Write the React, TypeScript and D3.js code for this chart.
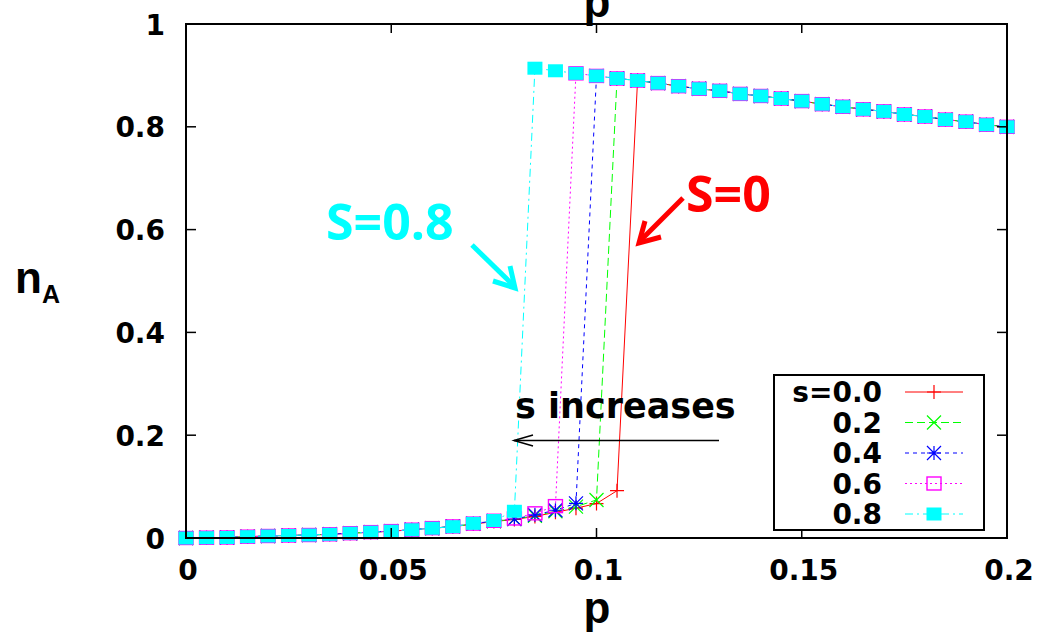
import React from "react";
import * as d3 from "d3";

const pValues = [
  0, 0.005, 0.01, 0.015, 0.02, 0.025, 0.03, 0.035, 0.04, 0.045, 0.05, 0.055, 0.06, 0.065, 0.07, 0.075,
  0.08, 0.085, 0.09, 0.095, 0.1, 0.105, 0.11, 0.115, 0.12, 0.125, 0.13, 0.135, 0.14, 0.145, 0.15, 0.155,
  0.16, 0.165, 0.17, 0.175, 0.18, 0.185, 0.19, 0.195, 0.2,
];

const nS00 = [
  0, 0.0006, 0.001, 0.0026, 0.0039, 0.0049, 0.0058, 0.0072, 0.0093, 0.0113, 0.0132, 0.016, 0.019, 0.022, 0.027, 0.032,
  0.036, 0.042, 0.05, 0.058, 0.067, 0.092, 0.89, 0.885, 0.879, 0.874, 0.87, 0.864, 0.86, 0.855, 0.85, 0.844,
  0.839, 0.834, 0.83, 0.824, 0.82, 0.814, 0.81, 0.804, 0.8,
];
const nS02 = [
  0, 0.0006, 0.001, 0.0026, 0.0039, 0.0049, 0.0058, 0.0072, 0.0093, 0.0113, 0.0133, 0.016, 0.019, 0.0225, 0.0275, 0.0325,
  0.037, 0.043, 0.052, 0.061, 0.074, 0.894, 0.89, 0.885, 0.879, 0.874, 0.87, 0.864, 0.86, 0.855, 0.85, 0.844,
  0.839, 0.834, 0.83, 0.824, 0.82, 0.814, 0.81, 0.804, 0.8,
];
const nS04 = [
  0, 0.0006, 0.001, 0.0026, 0.0039, 0.0049, 0.0058, 0.0072, 0.0093, 0.0114, 0.0134, 0.0162, 0.0192, 0.0225, 0.028, 0.033,
  0.037, 0.045, 0.054, 0.0675, 0.899, 0.894, 0.89, 0.885, 0.879, 0.874, 0.87, 0.864, 0.86, 0.855, 0.85, 0.844,
  0.839, 0.834, 0.83, 0.824, 0.82, 0.814, 0.81, 0.804, 0.8,
];
const nS06 = [
  0, 0.0006, 0.001, 0.0026, 0.0039, 0.0049, 0.0058, 0.0072, 0.0093, 0.0114, 0.0134, 0.0162, 0.0192, 0.0225, 0.028, 0.0335,
  0.038, 0.048, 0.062, 0.904, 0.899, 0.894, 0.89, 0.885, 0.879, 0.874, 0.87, 0.864, 0.86, 0.855, 0.85, 0.844,
  0.839, 0.834, 0.83, 0.824, 0.82, 0.814, 0.81, 0.804, 0.8,
];
const nS08 = [
  0, 0.0006, 0.001, 0.0026, 0.0039, 0.0049, 0.0058, 0.0072, 0.0093, 0.0113, 0.0132, 0.016, 0.019, 0.022, 0.0285, 0.034,
  0.052, 0.914, 0.909, 0.904, 0.899, 0.894, 0.89, 0.885, 0.879, 0.874, 0.87, 0.864, 0.86, 0.855, 0.85, 0.844,
  0.839, 0.834, 0.83, 0.824, 0.82, 0.814, 0.81, 0.804, 0.8,
];

const seriesLabels = ["s=0.0", "0.2", "0.4", "0.6", "0.8"];
const xTicks = [0, 0.05, 0.1, 0.15, 0.2];
const xTickLabels = ["0", "0.05", "0.1", "0.15", "0.2"];
const yTicks = [0, 0.2, 0.4, 0.6, 0.8, 1];
const yTickLabels = ["0", "0.2", "0.4", "0.6", "0.8", "1"];

const seriesData = [nS00, nS02, nS04, nS06, nS08];
const colors = ["#ff0000", "#00ff00", "#0000ff", "#ff00ff", "#00ffff"];
const dashes = ["none", "8,4", "4,4", "2,3", "8,4,2,4"];
const markers = ["plus", "cross", "star", "square", "filled"];

const W = 1042;
const H = 636;
const L = 186, R = 1007, T = 24, B = 538;

const x = d3.scaleLinear().domain([0, 0.2]).range([L, R]);
const y = d3.scaleLinear().domain([0, 1]).range([B, T]);

const tickFont = "'DejaVu Sans', sans-serif";

function Marker({ kind, cx, cy, color }: { kind: string; cx: number; cy: number; color: string }) {
  const h = 7;
  if (kind === "plus") {
    return (
      <path d={`M${cx - h},${cy}H${cx + h}M${cx},${cy - h}V${cy + h}`} stroke={color} strokeWidth={1.2} fill="none" />
    );
  }
  if (kind === "cross") {
    return (
      <path
        d={`M${cx - h},${cy - h}L${cx + h},${cy + h}M${cx - h},${cy + h}L${cx + h},${cy - h}`}
        stroke={color}
        strokeWidth={1.2}
        fill="none"
      />
    );
  }
  if (kind === "star") {
    return (
      <path
        d={`M${cx - h},${cy}H${cx + h}M${cx},${cy - h}V${cy + h}M${cx - h},${cy - h}L${cx + h},${cy + h}M${cx - h},${cy + h}L${cx + h},${cy - h}`}
        stroke={color}
        strokeWidth={1.2}
        fill="none"
      />
    );
  }
  if (kind === "square") {
    return <rect x={cx - 7} y={cy - 6.5} width={14} height={13} stroke={color} strokeWidth={1.4} fill="none" />;
  }
  return <rect x={cx - 7.5} y={cy - 6.5} width={15} height={13} fill={color} stroke="none" />;
}

export default function App() {
  const line = d3
    .line<number>()
    .x((_, i) => x(pValues[i]))
    .y((d) => y(d));

  const legendX1 = 905, legendX2 = 963, legendTextX = 882;
  const legendY0 = 392, legendStep = 30.5;

  return (
    <svg
      width={W}
      height={H}
      style={{ position: "absolute", left: 0, top: 0, background: "#fff" }}
    >
      <rect x={0} y={0} width={W} height={H} fill="#fff" />

      {/* series */}
      {seriesData.map((vals, si) => (
        <g key={si}>
          <path
            d={line(vals) || ""}
            fill="none"
            stroke={colors[si]}
            strokeWidth={1}
            strokeDasharray={dashes[si]}
          />
          {vals.map((v, i) => (
            <Marker key={i} kind={markers[si]} cx={x(pValues[i])} cy={y(v)} color={colors[si]} />
          ))}
        </g>
      ))}

      {/* frame */}
      <rect x={L} y={T} width={R - L} height={B - T} fill="none" stroke="#000" strokeWidth={2} />

      {/* x ticks */}
      {xTicks.map((t, i) => (
        <g key={"x" + i}>
          <line x1={x(t)} x2={x(t)} y1={B} y2={B - 10} stroke="#000" strokeWidth={1.5} />
          <line x1={x(t)} x2={x(t)} y1={T} y2={T + 9} stroke="#000" strokeWidth={1.5} />
          <text
            x={x(t) + 2}
            y={580}
            textAnchor="middle"
            fontFamily={tickFont}
            fontWeight="bold"
            fontSize={28}
          >
            {xTickLabels[i]}
          </text>
        </g>
      ))}

      {/* y ticks */}
      {yTicks.map((t, i) => (
        <g key={"y" + i}>
          <line x1={L} x2={L + 10} y1={y(t)} y2={y(t)} stroke="#000" strokeWidth={1.5} />
          <line x1={R} x2={R - 10} y1={y(t)} y2={y(t)} stroke="#000" strokeWidth={1.5} />
          <text
            x={165}
            y={y(t) + 10.5}
            textAnchor="end"
            fontFamily={tickFont}
            fontWeight="bold"
            fontSize={28}
          >
            {yTickLabels[i]}
          </text>
        </g>
      ))}

      {/* axis labels */}
      <text x={597} y={623} textAnchor="middle" fontFamily="'Liberation Sans', Arial, sans-serif" fontWeight="bold" fontSize={44}>
        p
      </text>
      <text x={597} y={17} textAnchor="middle" fontFamily="'Liberation Sans', Arial, sans-serif" fontWeight="bold" fontSize={44}>
        p
      </text>
      <text x={15} y={293} fontFamily="'Liberation Sans', Arial, sans-serif" fontWeight="bold" fontSize={44}>
        n
      </text>
      <text x={42} y={303} fontFamily="'Liberation Sans', Arial, sans-serif" fontWeight="bold" fontSize={25}>
        A
      </text>

      {/* annotations */}
      <text x={326} y={240} fontFamily="'Open Sans', sans-serif" fontWeight="bold" fontSize={50} fill="#00ffff">
        S=0.8
      </text>
      <g stroke="#00ffff" strokeWidth={5} fill="none" strokeLinecap="butt" strokeLinejoin="miter">
        <line x1={472} y1={245} x2={514} y2={286} />
        <path d="M493,281 L515,288 L510,266" />
      </g>
      <text x={686} y={212} fontFamily="'Open Sans', sans-serif" fontWeight="bold" fontSize={50} fill="#ff0000">
        S=0
      </text>
      <g stroke="#ff0000" strokeWidth={5} fill="none" strokeLinecap="butt" strokeLinejoin="miter">
        <line x1={683} y1={198} x2={641} y2={240} />
        <path d="M645,221 L639,243 L661,237" />
      </g>

      <text x={515} y={418} fontFamily={tickFont} fontWeight="bold" fontSize={35}>
        s increases
      </text>
      <g stroke="#000" strokeWidth={1.5} fill="none">
        <line x1={719} y1={440.5} x2={514} y2={440.5} />
        <path d="M533,435 L514,440.5 L533,446" />
      </g>

      {/* legend */}
      <rect x={774} y={375} width={210} height={155} fill="#fff" stroke="#000" strokeWidth={2} />
      {seriesLabels.map((lab, i) => {
        const cy = legendY0 + i * legendStep;
        return (
          <g key={"l" + i}>
            <text
              x={legendTextX}
              y={cy + 10}
              textAnchor="end"
              fontFamily={tickFont}
              fontWeight="bold"
              fontSize={28}
            >
              {lab}
            </text>
            <line
              x1={legendX1}
              x2={legendX2}
              y1={cy}
              y2={cy}
              stroke={colors[i]}
              strokeWidth={1}
              strokeDasharray={dashes[i]}
            />
            <Marker kind={markers[i]} cx={(legendX1 + legendX2) / 2} cy={cy} color={colors[i]} />
          </g>
        );
      })}
    </svg>
  );
}
